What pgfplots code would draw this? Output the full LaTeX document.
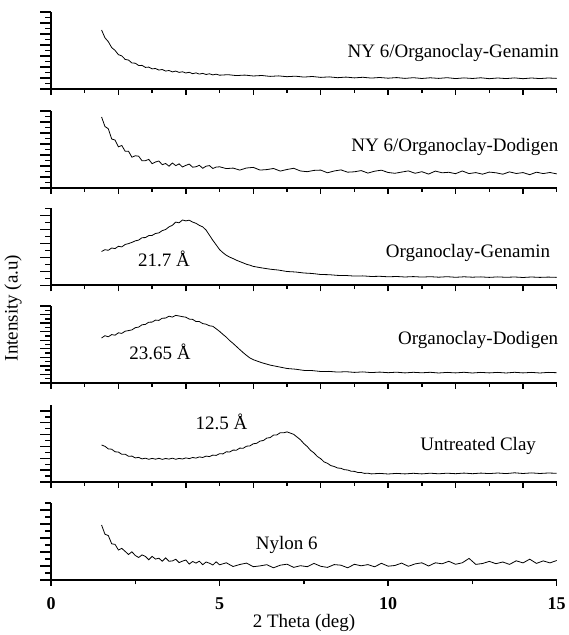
\documentclass[border=0pt]{standalone}
\usepackage{fontspec}
\setmainfont{Liberation Serif}
\usepackage{pgfplots}
\pgfplotsset{compat=1.18}
\newcommand{\lab}{\fontsize{9.5}{11}\selectfont}
\pgfplotsset{
  panel/.style={
    scale only axis, width=252.85pt, height=38.5pt,
    at={(25.5pt,#1)}, anchor=south west,
    xmin=0, xmax=15, ymin=0, ymax=77,
    axis x line*=bottom, axis y line*=left,
    axis line style={line width=1pt},
    tick align=outside,
    xtick={0,2,...,14}, minor xtick={1,3,...,15},
    xticklabels={}, yticklabels={},
    major tick length=5.3pt, minor tick length=2.9pt,
    xtick style={/pgfplots/major tick length=2.9pt, /pgfplots/minor tick length=1.8pt},
    tick style={line width=0.7pt, black},
    minor tick num=1,
    clip=false,
    cycle list={{black, no markers, line width=0.55pt}},
    font=\lab,
  },
}

\begin{document}
\begin{tikzpicture}
\path[use as bounding box] (0,0) rectangle (284pt,317.5pt);

% NY 6/Organoclay-Genamin
\begin{axis}[panel=273pt, ytick distance=11]
\addplot coordinates {
(1.50,59.0) (1.60,51.2) (1.70,47.3) (1.80,41.4) (1.90,38.6) (2.00,34.3) (2.10,33.1) (2.20,29.6) (2.30,28.9) (2.40,26.0)
(2.50,25.8) (2.60,23.5) (2.70,23.6) (2.80,21.6) (2.90,21.9) (3.00,20.1) (3.10,20.5) (3.20,18.9) (3.30,19.5) (3.40,17.9)
(3.50,18.5) (3.60,17.1) (3.70,17.9) (3.80,16.6) (3.90,17.2) (4.00,16.0) (4.10,16.7) (4.20,15.3) (4.30,16.1) (4.40,14.9)
(4.50,15.6) (4.60,14.5) (4.70,15.2) (4.80,14.1) (4.90,14.8) (5.00,13.8)
(5.25,14.3) (5.50,13.4) (5.75,13.9) (6.00,13.0) (6.25,13.5) (6.50,12.6) (6.75,13.1) (7.00,12.3) (7.25,12.8) (7.50,11.9)
(7.75,12.5) (8.00,11.6) (8.25,12.1) (8.50,11.3) (8.75,11.9) (9.00,11.1) (9.25,11.7) (9.50,10.9) (9.75,11.5) (10.00,10.8)
(10.25,11.4) (10.50,10.6) (10.75,11.3) (11.00,10.5) (11.25,11.2) (11.50,10.6) (11.75,11.3) (12.00,10.4) (12.25,11.1) (12.50,10.5)
(12.75,11.2) (13.00,10.3) (13.25,11.0) (13.50,10.4) (13.75,11.1) (14.00,10.3) (14.25,11.0) (14.50,10.4) (14.75,11.0) (15.00,10.6)
};
\node at (axis cs:11.93,36) {NY 6/Organoclay-Genamin};
\end{axis}

% NY 6/Organoclay-Dodigen
\begin{axis}[panel=223.5pt, ytick distance=11]
\addplot coordinates {
(1.50,71.0) (1.60,61.5) (1.70,59.2) (1.80,49.0) (1.90,47.9) (2.00,41.2) (2.10,42.5) (2.20,36.7) (2.30,36.7) (2.40,30.8)
(2.50,32.2) (2.60,31.8) (2.70,27.2) (2.80,27.3) (2.90,28.6) (3.00,24.3) (3.10,26.0) (3.20,27.0) (3.30,23.3) (3.40,24.5)
(3.50,21.8) (3.60,25.0) (3.70,22.4) (3.80,24.1) (3.90,21.0) (4.00,22.6) (4.10,23.9) (4.20,20.8) (4.30,21.2) (4.40,22.7)
(4.50,19.7) (4.60,21.8) (4.70,22.4) (4.80,19.5) (4.90,20.9)
(5.00,21.2) (5.20,19.4) (5.40,19.9) (5.60,17.9) (5.80,20.0) (6.00,20.6) (6.20,17.9) (6.40,18.4) (6.60,19.5) (6.80,16.9)
(7.00,18.5) (7.20,19.7) (7.40,17.0) (7.60,16.3) (7.80,17.6) (8.00,17.9) (8.20,15.2) (8.40,17.0) (8.60,18.1) (8.80,15.8)
(9.00,16.2) (9.20,17.4) (9.40,14.9) (9.60,16.8) (9.80,17.8) (10.00,15.5) (10.20,14.7) (10.40,15.9) (10.60,17.1) (10.80,14.7)
(11.00,16.3) (11.20,13.9) (11.40,16.9) (11.60,15.2) (11.80,15.7) (12.00,14.3) (12.20,17.0) (12.40,14.4) (12.60,15.4) (12.80,13.8)
(13.00,15.9) (13.20,15.2) (13.40,13.8) (13.60,16.1) (13.80,14.5) (14.00,15.4) (14.20,13.3) (14.40,15.8) (14.60,14.4) (14.80,15.5)
(15.00,14.1)
};
\node at (axis cs:11.98,41) {NY 6/Organoclay-Dodigen};
\end{axis}

% Organoclay-Genamin
\begin{axis}[panel=174.75pt, ytick distance=14]
\addplot coordinates {
(1.50,34.0) (1.60,35.8) (1.70,35.2) (1.80,37.5) (1.90,36.9) (2.00,39.2) (2.10,38.6) (2.20,41.0) (2.30,41.9) (2.40,43.1)
(2.50,44.6) (2.60,45.4) (2.70,47.8) (2.80,47.9) (2.90,49.9) (3.00,50.1) (3.10,52.0) (3.20,52.6) (3.30,54.9) (3.40,56.0)
(3.50,58.6) (3.60,60.2) (3.70,63.4) (3.80,62.7) (3.90,65.5) (4.00,64.6) (4.10,65.3) (4.20,63.4) (4.30,62.2) (4.40,60.1)
(4.50,58.6) (4.60,55.4) (4.70,50.3) (4.80,45.2) (4.90,40.6) (5.00,35.9) (5.10,32.8) (5.20,30.2) (5.30,28.4) (5.40,26.9)
(5.50,25.3) (5.60,23.9) (5.70,22.6) (5.80,21.2) (5.90,20.3) (6.00,19.1)
(6.25,17.6) (6.50,16.3) (6.75,15.4) (7.00,14.0) (7.25,13.5) (7.50,12.5) (7.75,12.0) (8.00,11.0) (8.25,10.8) (8.50,10.1)
(8.75,10.0) (9.00,9.4) (9.25,9.6) (9.50,9.0) (9.75,9.2) (10.00,8.7) (10.25,9.0) (10.50,8.5) (10.75,8.9) (11.00,8.4)
(11.25,8.8) (11.50,8.3) (11.75,8.8) (12.00,8.2) (12.25,8.7) (12.50,8.3) (12.75,8.6) (13.00,8.1) (13.25,8.6) (13.50,8.2)
(13.75,8.5) (14.00,8.0) (14.25,8.5) (14.50,8.1) (14.75,8.4) (15.00,8.1)
};
\node at (axis cs:12.37,32.8) {Organoclay-Genamin};
\node at (axis cs:3.35,26.5) {21.7 Å};
\end{axis}

% Organoclay-Dodigen
\begin{axis}[panel=126pt, ytick distance=8.55]
\addplot coordinates {
(1.50,45.0) (1.60,47.3) (1.70,46.2) (1.80,48.4) (1.90,47.8) (2.00,50.2) (2.10,49.6) (2.20,51.8) (2.30,52.4) (2.40,53.1)
(2.50,55.3) (2.60,55.9) (2.70,58.2) (2.80,58.6) (2.90,60.8) (3.00,60.9) (3.10,62.9) (3.20,62.6) (3.30,64.8) (3.40,64.9)
(3.50,66.8) (3.60,65.9) (3.70,67.6) (3.80,67.0) (3.90,66.3) (4.00,65.8) (4.10,63.9) (4.20,63.6) (4.30,61.5) (4.40,61.4)
(4.50,59.4) (4.60,58.8) (4.70,57.2) (4.80,56.7) (4.90,54.2) (5.00,51.6) (5.10,48.6) (5.20,45.8) (5.30,42.4) (5.40,39.6)
(5.50,36.5) (5.60,33.4) (5.70,30.4) (5.80,27.6) (5.90,25.0) (6.00,23.3)
(6.25,20.3) (6.50,17.9) (6.75,16.2) (7.00,14.5) (7.25,13.8) (7.50,12.6) (7.75,12.4) (8.00,11.5) (8.25,11.6) (8.50,10.9)
(8.75,11.3) (9.00,10.6) (9.25,11.1) (9.50,10.4) (9.75,10.9) (10.00,10.3) (10.25,10.8) (10.50,10.1) (10.75,10.7) (11.00,10.2)
(11.25,10.7) (11.50,10.0) (11.75,10.6) (12.00,10.1) (12.25,10.7) (12.50,10.0) (12.75,10.6) (13.00,10.1) (13.25,10.6) (13.50,10.0)
(13.75,10.7) (14.00,10.1) (14.25,10.6) (14.50,10.0) (14.75,10.6) (15.00,10.3)
};
\node at (axis cs:12.67,43) {Organoclay-Dodigen};
\node at (axis cs:3.23,31.3) {23.65 Å};
\end{axis}

% Untreated Clay
\begin{axis}[panel=76.5pt, ytick distance=11.85]
\addplot coordinates {
(1.50,37.0) (1.60,35.7) (1.70,33.1) (1.80,32.8) (1.90,30.2) (2.00,29.9) (2.10,27.7) (2.20,27.8) (2.30,25.7) (2.40,25.9)
(2.50,24.1) (2.60,24.6) (2.70,23.1) (2.80,23.8) (2.90,22.7) (3.00,23.6) (3.10,22.8) (3.20,23.7) (3.30,22.6) (3.40,23.5)
(3.50,22.9) (3.60,23.8) (3.70,22.7) (3.80,23.6) (3.90,23.0) (4.00,24.1) (4.10,23.4) (4.20,24.5) (4.30,23.9) (4.40,25.1)
(4.50,24.5) (4.60,25.9) (4.70,25.4) (4.80,26.9) (4.90,26.6) (5.00,28.3) (5.10,28.1) (5.20,30.2) (5.30,30.0) (5.40,31.9)
(5.50,31.8) (5.60,33.9) (5.70,33.7) (5.80,35.8) (5.90,36.1) (6.00,38.2) (6.10,38.7) (6.20,40.9) (6.30,41.5) (6.40,43.9)
(6.50,44.4) (6.60,46.9) (6.70,47.1) (6.80,49.3) (6.90,49.2) (7.00,50.1) (7.10,48.9) (7.20,47.6) (7.30,44.9) (7.40,42.2)
(7.50,38.4) (7.60,35.5) (7.70,31.6) (7.80,29.1) (7.90,25.5) (8.00,23.3) (8.10,20.1) (8.20,18.7) (8.30,16.4) (8.40,15.5)
(8.50,14.0) (8.60,13.7) (8.70,12.3) (8.80,12.0) (8.90,10.8) (9.00,10.6) (9.10,9.5) (9.20,9.5) (9.30,8.6) (9.40,8.8)
(9.50,8.1)
(9.75,8.6) (10.00,8.0) (10.25,8.6) (10.50,8.1) (10.75,8.7) (11.00,8.1) (11.25,8.8) (11.50,8.2) (11.75,8.8) (12.00,8.3)
(12.25,8.9) (12.50,8.3) (12.75,8.9) (13.00,8.4) (13.25,9.0) (13.50,8.4) (13.75,9.2) (14.00,8.5) (14.25,9.1) (14.50,8.5)
(14.75,9.0) (15.00,8.7)
};
\node at (axis cs:12.67,36) {Untreated Clay};
\node at (axis cs:5.06,60.3) {12.5 Å};
\end{axis}

% Nylon 6
\begin{axis}[panel=27.5pt, ytick distance=14,
  xtick={0,5,10,15}, minor xtick={2.5,7.5,12.5},
  xticklabels={0,5,10,15},
  xtick style={/pgfplots/major tick length=2.9pt, /pgfplots/minor tick length=2.2pt},
  xticklabel style={font=\bfseries\fontsize{9}{10}\selectfont},
  /pgf/number format/assume math mode=true]
\addplot coordinates {
(1.50,55.0) (1.60,45.8) (1.70,44.4) (1.80,36.2) (1.90,35.6) (2.00,30.0) (2.10,31.6) (2.20,28.6) (2.30,25.5) (2.40,28.2)
(2.50,24.5) (2.60,22.5) (2.70,25.1) (2.80,23.6) (2.90,20.2) (3.00,23.6) (3.10,20.9) (3.20,21.8) (3.30,18.8) (3.40,22.1)
(3.50,18.7) (3.60,19.1) (3.70,20.7) (3.80,17.4) (3.90,18.9) (4.00,20.0) (4.10,15.9) (4.20,18.5) (4.30,16.9) (4.40,18.8)
(4.50,15.3) (4.60,18.0) (4.70,16.8) (4.80,15.0) (4.90,18.2)
(5.00,15.2) (5.20,17.2) (5.40,13.5) (5.60,15.5) (5.80,16.9) (6.00,13.3) (6.20,14.1) (6.40,15.3) (6.60,12.2) (6.80,14.8)
(7.00,15.8) (7.20,12.6) (7.40,14.3) (7.60,13.3) (7.80,16.6) (8.00,13.7) (8.20,12.6) (8.40,15.4) (8.60,14.8) (8.80,12.2)
(9.00,15.7) (9.20,14.2) (9.40,15.4) (9.60,13.2) (9.80,16.7) (10.00,13.8) (10.20,14.5) (10.40,16.9) (10.60,13.7) (10.80,16.1)
(11.00,17.2) (11.20,14.0) (11.40,17.2) (11.60,16.2) (11.80,18.7) (12.00,15.7) (12.20,17.2) (12.40,21.6) (12.60,15.6) (12.80,16.5)
(13.00,18.6) (13.20,16.3) (13.40,18.0) (13.60,15.6) (13.80,19.2) (14.00,17.1) (14.20,20.8) (14.40,16.6) (14.60,19.1) (14.80,17.1)
(15.00,19.5)
};
\node at (axis cs:6.99,35) {Nylon 6};
\end{axis}

\node[font=\lab] at (152pt,6pt) {2 Theta (deg)};
\node[font=\lab, rotate=90] at (6.5pt,163.5pt) {Intensity (a.u)};
\end{tikzpicture}
\end{document}
